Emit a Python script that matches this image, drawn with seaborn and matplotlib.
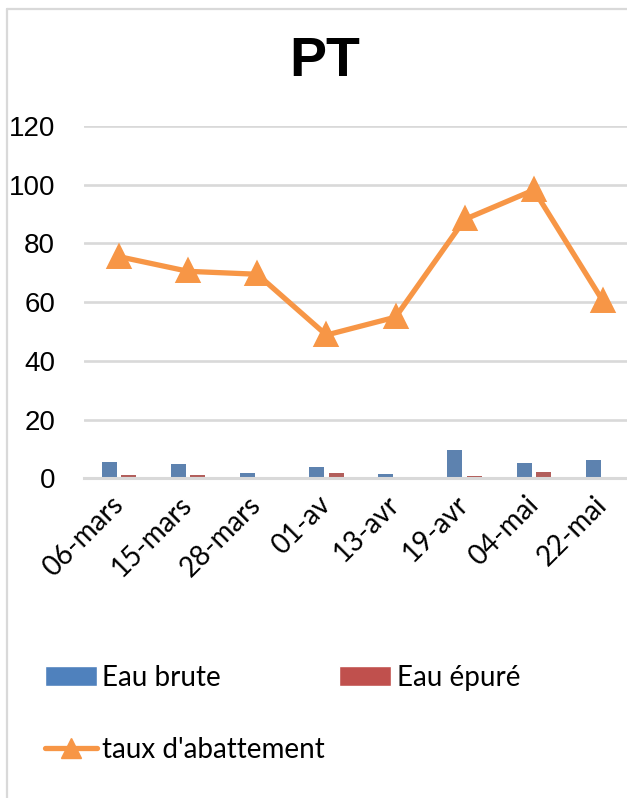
import pandas as pd
import matplotlib.pyplot as plt
import seaborn as sns
from matplotlib.patches import Patch
from matplotlib.lines import Line2D

dates = ['06-mars', '15-mars', '28-mars', '01-av', '13-avr', '19-avr', '04-mai', '22-mai']
eau_brute = [5.7, 5.0, 1.8, 4.0, 1.6, 9.6, 5.3, 6.3]
eau_epure = [1.0, 1.0, 0.3, 1.8, 0.6, 0.7, 2.3, 0.0]
taux = [75.5, 70.5, 69.5, 48.8, 54.9, 88.2, 98.2, 60.3]

blue = '#4F81BD'
red = '#C0504D'
orange = '#F79646'
grey = '#D9D9D9'

sns.set_style('white')
plt.rcParams['font.family'] = ['Liberation Sans', 'DejaVu Sans']
plt.rcParams['text.color'] = 'black'
plt.rcParams['xtick.color'] = 'black'
plt.rcParams['ytick.color'] = 'black'

bars = pd.DataFrame({
    'date': dates * 2,
    'valeur': eau_brute + eau_epure,
    'serie': ['Eau brute'] * len(dates) + ['Eau épuré'] * len(dates),
})
ligne = pd.DataFrame({'date': dates, 'taux': taux})

fig = plt.figure(figsize=(6.27, 7.98), dpi=100)
ax = fig.add_axes([84.4 / 627, 319.7 / 798, 553.2 / 627, 352.3 / 798])

sns.barplot(data=bars, x='date', y='valeur', hue='serie', palette=[blue, red],
            width=0.57, gap=0.24, edgecolor='none', linewidth=0,
            legend=False, ax=ax, zorder=2)
sns.pointplot(data=ligne, x='date', y='taux', color=orange, markers='^',
              markersize=14, linewidth=3.8, ax=ax, zorder=3)

ax.set_xlim(-0.5, len(dates) - 0.5)
ax.set_ylim(0, 120)
ax.set_yticks(range(0, 121, 20))
ax.yaxis.grid(True, color=grey, linewidth=1.9, zorder=0)
ax.set_axisbelow(True)
for s in ['top', 'right', 'left']:
    ax.spines[s].set_visible(False)
ax.spines['bottom'].set_color(grey)
ax.spines['bottom'].set_linewidth(2.2)
ax.tick_params(axis='both', length=0)
ax.tick_params(axis='y', labelsize=20, pad=21)
ax.set_xlabel('')
ax.set_ylabel('')
for lab in ax.get_xticklabels():
    lab.set_family(['Lato', 'DejaVu Sans'])
    lab.set_fontsize(20)
    lab.set_rotation(45)
    lab.set_ha('right')
    lab.set_va('center')
    lab.set_rotation_mode('anchor')
ax.tick_params(axis='x', pad=16)

fig.text(325 / 627, 1 - 62 / 798, 'PT', ha='center', va='center',
         fontsize=40, fontweight='bold')

handles = [
    Patch(facecolor=blue, label='Eau brute'),
    Line2D([0], [0], color=orange, linewidth=3.8, marker='^', markersize=14,
           label="taux d'abattement"),
    Patch(facecolor=red, label='Eau épuré'),
]
fig.legend(handles=handles, loc='upper left', bbox_to_anchor=(45 / 627, 1 - 665 / 798),
           ncol=2, frameon=False, borderpad=0, borderaxespad=0,
           prop={'family': ['Lato', 'DejaVu Sans'], 'size': 20},
           handlelength=1.87, handleheight=0.72, handletextpad=0.2,
           columnspacing=0.5, labelspacing=1.66)

# bordure du graphique
fig.add_artist(Line2D([7 / 627, 7 / 627], [0, 1 - 9 / 798], color=grey, linewidth=1.6))
fig.add_artist(Line2D([7 / 627, 1], [1 - 9 / 798, 1 - 9 / 798], color=grey, linewidth=1.6))

fig.savefig('out.png', dpi=100)
